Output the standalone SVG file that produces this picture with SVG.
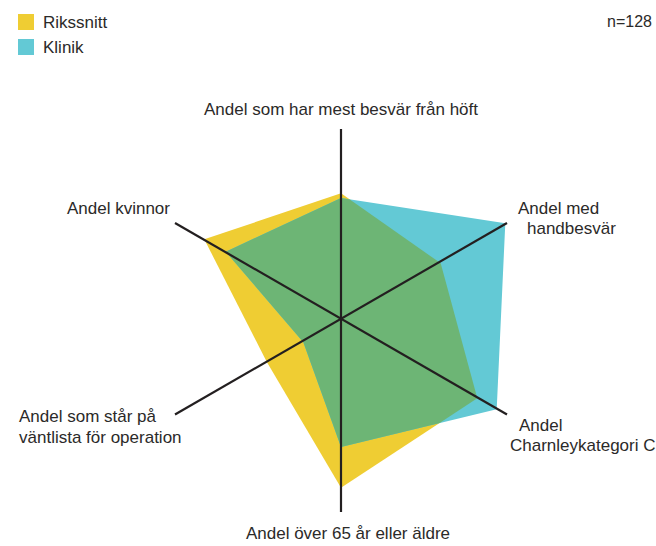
<svg xmlns="http://www.w3.org/2000/svg" width="656" height="546" viewBox="0 0 656 546">
  <style>
    text { font-family: "Liberation Sans", Arial, sans-serif; font-size: 17px; fill: #2b2a29; }
    .axis { stroke: #231f20; stroke-width: 2.2; fill: none; }
    .riks { fill: #efcd33; }
    .klin { fill: #63c9d5; }
    .both { fill: #6db575; }
  </style>
  <defs>
    <clipPath id="klinikClip">
      <polygon points="341,198 505.3,223.3 496.7,409.3 341,447 303.3,342.3 225.7,251.7"/>
    </clipPath>
  </defs>

  <!-- legend -->
  <g id="legend">
    <rect class="riks" x="18" y="14" width="16" height="16"/>
    <text x="43" y="28">Rikssnitt</text>
    <rect class="klin" x="18" y="39" width="16" height="16"/>
    <text x="43" y="53">Klinik</text>
    <text x="652" y="27" text-anchor="end" style="font-size:16px">n=128</text>
  </g>

  <!-- data areas -->
  <g id="series">
    <polygon id="rikssnitt" class="riks" points="341,193.3 440.7,263.3 477.3,398.3 341,487.7 266.7,361.7 204.3,239.3"/>
    <polygon id="klinik" class="klin" points="341,198 505.3,223.3 496.7,409.3 341,447 303.3,342.3 225.7,251.7"/>
    <!-- overlap of the two areas -->
    <polygon id="overlap" class="both" clip-path="url(#klinikClip)" points="341,193.3 440.7,263.3 477.3,398.3 341,487.7 266.7,361.7 204.3,239.3"/>
  </g>

  <!-- axes -->
  <g id="axes">
    <line class="axis" x1="341" y1="129" x2="341" y2="512"/>
    <line class="axis" x1="175" y1="223" x2="507" y2="414.5"/>
    <line class="axis" x1="175" y1="414.5" x2="507" y2="223"/>
  </g>

  <!-- axis labels -->
  <g id="labels">
    <text x="341" y="115" text-anchor="middle">Andel som har mest besvär från höft</text>
    <text x="170" y="214" text-anchor="end">Andel kvinnor</text>
    <text x="518" y="214">Andel med</text>
    <text x="527" y="234">handbesvär</text>
    <text x="519" y="431">Andel</text>
    <text x="510" y="451">Charnleykategori C</text>
    <text x="19" y="422">Andel som står på</text>
    <text x="19" y="443">väntlista för operation</text>
    <text x="348" y="539" text-anchor="middle">Andel över 65 år eller äldre</text>
  </g>
</svg>
